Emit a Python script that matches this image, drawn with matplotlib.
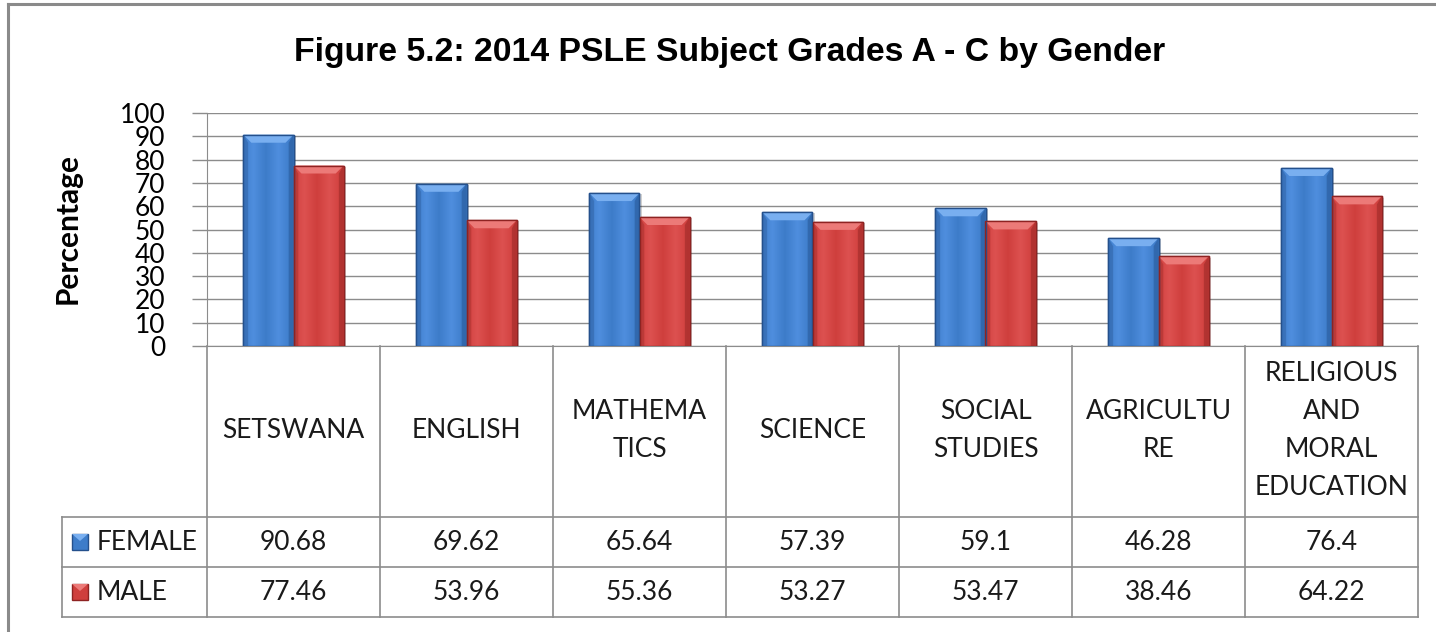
import numpy as np
import matplotlib
matplotlib.use("Agg")
import matplotlib.pyplot as plt
from matplotlib.lines import Line2D
from matplotlib.patches import Polygon, Rectangle
from matplotlib.colors import LinearSegmentedColormap

categories = ["SETSWANA", "ENGLISH", "MATHEMA\nTICS", "SCIENCE", "SOCIAL\nSTUDIES",
              "AGRICULTU\nRE", "RELIGIOUS\nAND\nMORAL\nEDUCATION"]
female = [90.68, 69.62, 65.64, 57.39, 59.1, 46.28, 76.4]
male = [77.46, 53.96, 55.36, 53.27, 53.47, 38.46, 64.22]
female_lbl = ["90.68", "69.62", "65.64", "57.39", "59.1", "46.28", "76.4"]
male_lbl = ["77.46", "53.96", "55.36", "53.27", "53.47", "38.46", "64.22"]
series_names = ["FEMALE", "MALE"]
yticks = list(range(0, 101, 10))

W, H = 1436, 632
fig = plt.figure(figsize=(W / 100, H / 100), dpi=100)
fig.patch.set_facecolor("white")

def fx(px):
    return px / W

def fy(py):
    return 1 - py / H

TXT = "Lato"
GRID = "#8c8c8c"

# frame
fig.add_artist(Line2D([fx(8), fx(8)], [fy(4), 0], transform=fig.transFigure, color="#8a8a8a", lw=2.2))
fig.add_artist(Line2D([fx(8), 1], [fy(4), fy(4)], transform=fig.transFigure, color="#8a8a8a", lw=2.2))

# title
fig.text(fx(730), fy(53), "Figure 5.2: 2014 PSLE Subject Grades A - C by Gender",
         ha="center", va="center", fontsize=24.3, fontweight="bold", family="Liberation Sans")

# y label
fig.text(fx(68), fy(229), "Percentage", rotation=90, ha="center", va="center",
         fontsize=21.5, fontweight="bold", family=TXT)

# main axes
L, R, T, B = 207, 1418, 113, 346
ax = fig.add_axes([fx(L), fy(B), fx(R - L), fy(T) - fy(B)])
n = len(categories)
x = np.arange(n)
ax.set_xlim(-0.5, n - 0.5)
ax.set_ylim(0, 100)
ax.set_yticks(yticks)
ax.set_yticklabels([str(v) for v in yticks], fontsize=19, family=TXT)
ax.set_xticks([])
ax.tick_params(axis="y", length=11, color=GRID, width=1, pad=19)
ax.yaxis.grid(True, color=GRID, lw=1)
ax.set_axisbelow(True)
for s in ["top", "right"]:
    ax.spines[s].set_visible(False)
for s in ["left", "bottom"]:
    ax.spines[s].set_color(GRID)

bw = 0.29
px_per_unit_y = (B - T) / 100.0

def fancy_bars(xs, vals, base, dark, light, top):
    cmap = LinearSegmentedColormap.from_list("g", [dark, base, light, base, dark])
    bars = ax.bar(xs, vals, width=bw, color=base, edgecolor=dark, lw=1.0, zorder=3)
    grad = np.linspace(0, 1, 64).reshape(1, -1)
    grad = np.clip(np.abs(grad - 0.45) * -2 + 1, 0, 1) * 0.5 + 0.25
    for b in bars:
        x0, w, h = b.get_x(), b.get_width(), b.get_height()
        sh = Rectangle((x0 + 0.012, 0), w, h - 0.5, color="#000000", alpha=0.18, zorder=2.5, lw=0)
        ax.add_patch(sh)
        im = ax.imshow(grad, extent=[x0, x0 + w, 0, h], aspect="auto", cmap=cmap,
                       vmin=0, vmax=1, zorder=3.1, interpolation="bicubic")
        im.set_clip_path(b)
        bev_h = 8 / px_per_unit_y
        bev_w = w * 0.16
        poly = Polygon([[x0, h], [x0 + w, h], [x0 + w - bev_w, h - bev_h], [x0 + bev_w, h - bev_h]],
                       closed=True, color=top, zorder=3.2, lw=0)
        ax.add_patch(poly)
        side_l = Polygon([[x0, 0], [x0, h], [x0 + bev_w * 0.6, h - bev_h], [x0 + bev_w * 0.6, 0]],
                         closed=True, color=dark, alpha=0.35, zorder=3.2, lw=0)
        ax.add_patch(side_l)
        side_r = Polygon([[x0 + w, 0], [x0 + w, h], [x0 + w - bev_w * 0.6, h - bev_h], [x0 + w - bev_w * 0.6, 0]],
                         closed=True, color=dark, alpha=0.45, zorder=3.2, lw=0)
        ax.add_patch(side_r)
        ax.add_patch(Rectangle((x0, 0), w, h, fill=False, edgecolor=dark, lw=1.0, zorder=3.3))

BLUE = dict(base="#3d7cc9", dark="#24508c", light="#4f8ede", top="#79aff0")
RED = dict(base="#cf3f3d", dark="#8e2322", light="#dd5150", top="#ec7a78")
fancy_bars(x - bw / 2, female, **BLUE)
fancy_bars(x + bw / 2, male, **RED)

# table axes
TL, TB = 62, 617
tax = fig.add_axes([fx(TL), fy(TB), fx(R - TL), fy(B) - fy(TB)])
cat_px = (R - L) / n
xl = -0.5 - (L - TL) / cat_px
tax.set_xlim(xl, n - 0.5)
tax.set_ylim(TB - B, 0)
tax.axis("off")
hdr = 171
row = 50
lc = GRID
for i in range(n + 1):
    tax.plot([i - 0.5, i - 0.5], [0, TB - B], color=lc, lw=1.2, clip_on=False)
tax.plot([xl, xl], [hdr, hdr + 2 * row], color=lc, lw=1.2, clip_on=False)
for yy in [hdr, hdr + row, hdr + 2 * row]:
    tax.plot([xl, n - 0.5], [yy, yy], color=lc, lw=1.2, clip_on=False)

FS = 19
for i, c in enumerate(categories):
    tax.text(i, hdr / 2 - 1, c, ha="center", va="center", fontsize=FS, family=TXT,
             linespacing=1.66, color="#1a1a1a")
for i in range(n):
    tax.text(i, hdr + row / 2, female_lbl[i], ha="center", va="center", fontsize=FS, family=TXT, color="#1a1a1a")
    tax.text(i, hdr + 1.5 * row, male_lbl[i], ha="center", va="center", fontsize=FS, family=TXT, color="#1a1a1a")

# legend keys in table
key_w = 16 / cat_px
for r, (name, col) in enumerate(zip(series_names, [BLUE, RED])):
    yc = hdr + row * (r + 0.5)
    kx = xl + 10 / cat_px
    tax.add_patch(Rectangle((kx, yc - 8), key_w, 16, facecolor=col["base"], edgecolor=col["dark"], lw=1))
    tax.add_patch(Polygon([[kx, yc - 8], [kx + key_w, yc - 8], [kx + key_w * 0.5, yc - 1]],
                          closed=True, color=col["top"], lw=0))
    tax.text(kx + key_w + 9 / cat_px, yc, name, ha="left", va="center", fontsize=FS, family=TXT, color="#1a1a1a")

fig.savefig("out.png", dpi=100, facecolor="white")
